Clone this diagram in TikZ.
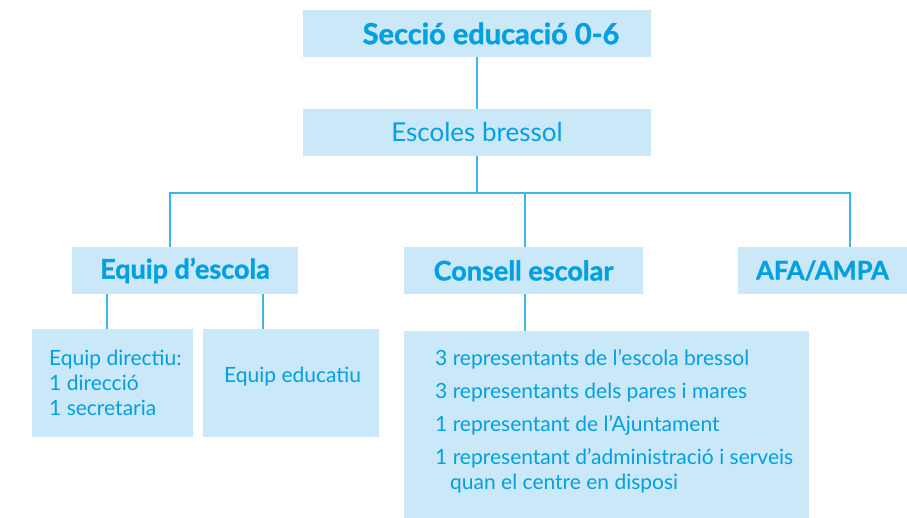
\documentclass[tikz,border=0pt]{standalone}
\usepackage{fontspec}
\setmainfont{Lato}[BoldFeatures={FakeBold=1.2}]
\definecolor{txtblue}{RGB}{0,160,226}
\definecolor{boxfill}{RGB}{203,232,248}
\definecolor{lineblue}{RGB}{62,182,232}
\tikzset{
  orgbox/.style={fill=boxfill, draw=none, inner sep=0pt, text=txtblue, align=center},
  titlebox/.style={orgbox, font=\bfseries\fontsize{29}{32}\selectfont},
  headbox/.style={orgbox, font=\bfseries\fontsize{27}{30}\selectfont},
  midbox/.style={orgbox, font=\fontsize{26}{30}\selectfont},
  plainbox/.style={orgbox},
  listtext/.style={anchor=base west, inner sep=0pt, text=txtblue, font=\fontsize{21}{25}\selectfont},
  conn/.style={draw=lineblue, line width=2pt}
}
\begin{document}
\begin{tikzpicture}[x=1pt,y=-1pt]
\useasboundingbox (0,0) rectangle (907,518);
\node[titlebox, minimum width=348pt, minimum height=47pt] (top) at (477,33.5) {\hspace*{28pt}Secció educació 0-6};
\node[midbox, minimum width=348pt, minimum height=47pt] (eb) at (477,132.5) {Escoles bressol};
\node[headbox, minimum width=226pt, minimum height=47pt] (ed) at (185,270.5) {Equip d’escola};
\node[headbox, minimum width=239pt, minimum height=47pt] (ce) at (523.5,270.5) {Consell escolar};
\node[headbox, font=\bfseries\fontsize{25.5}{30}\selectfont, minimum width=169pt, minimum height=47pt] (af) at (822.5,270.5) {AFA/AMPA};
\node[plainbox, minimum width=161pt, minimum height=108pt] (dir) at (112.5,383) {};
\node[plainbox, minimum width=176pt, minimum height=108pt] (edu) at (291,383) {};
\node[plainbox, minimum width=405pt, minimum height=189pt] (big) at (606.5,425.5) {};
% texts
\node[listtext] (dir1) at (49,365) {Equip directiu:};
\node[listtext] (dir2) at (49,390) {1 direcció};
\node[listtext] (dir3) at (49,415) {1 secretaria};
\node[listtext] (edu1) at (224,382) {Equip educatiu};
\node[listtext] (big1) at (435,365) {3 representants de l’escola bressol};
\node[listtext] (big2) at (435,398) {3 representants dels pares i mares};
\node[listtext] (big3) at (435,431) {1 representant de l’Ajuntament};
\node[listtext] (big4) at (435,464) {1 representant d’administració i serveis};
\node[listtext] (big5) at (450,489) {quan el centre en disposi};
% connectors
\coordinate (bus) at (477,193);
\coordinate (b1) at (170,193);
\coordinate (b2) at (525,193);
\coordinate (b3) at (850,193);
\coordinate (d1) at (107,310);
\coordinate (d2) at (263,310);
\draw[conn] (top.south) -- (eb.north);
\draw[conn] (eb.south) -- (bus);
\draw[conn] (b1 |- ed.north) -- (b1) -- (b3) -- (b3 |- af.north);
\draw[conn] (b2) -- (b2 |- ce.north);
\draw[conn] (d1 |- ed.south) -- (d1 |- dir.north);
\draw[conn] (d2 |- ed.south) -- (d2 |- edu.north);
\draw[conn] (ce.south -| b2) -- (big.north -| b2);
\end{tikzpicture}
\end{document}
